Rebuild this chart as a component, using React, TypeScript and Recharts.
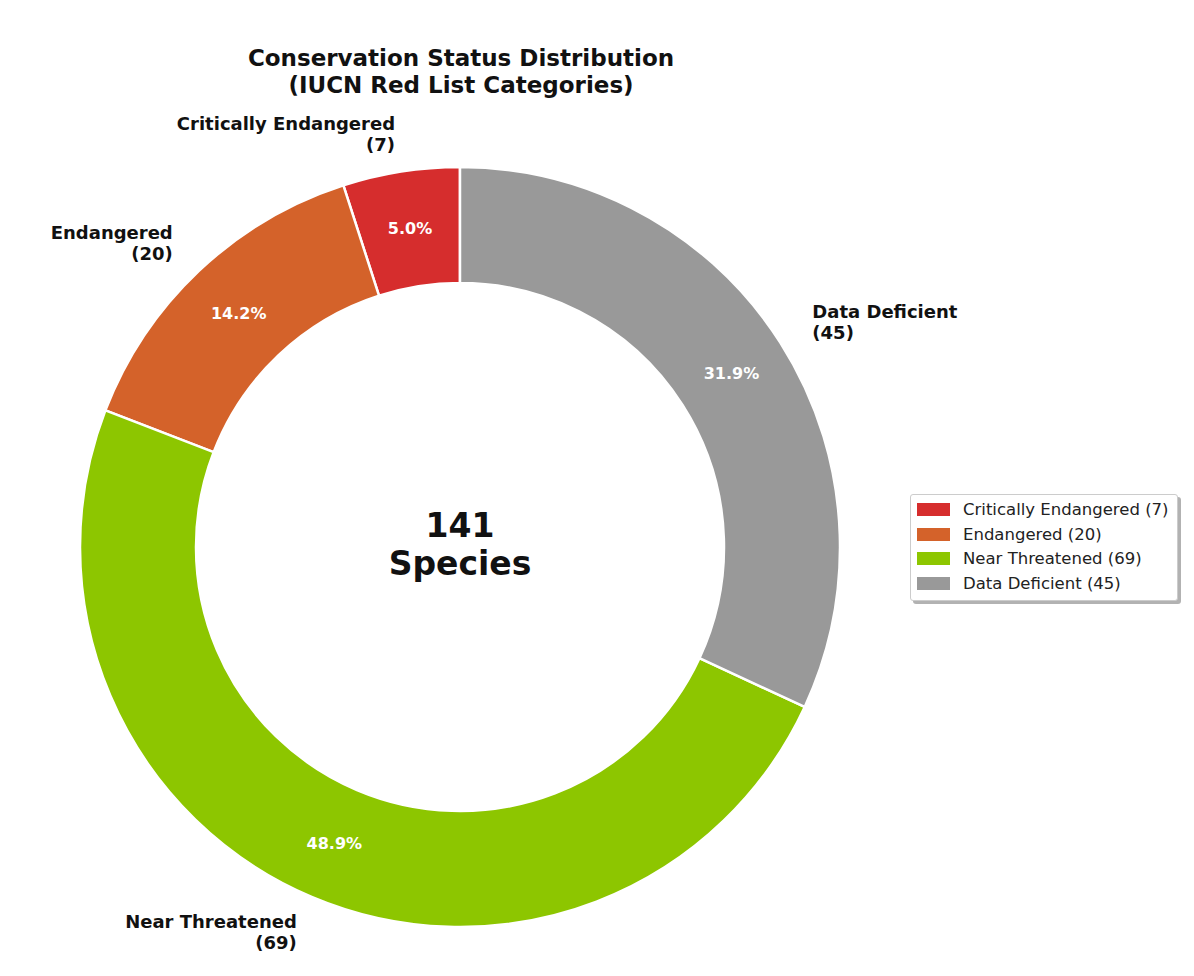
import { PieChart, Pie, Cell, Legend } from 'recharts';

const categories = ['Critically Endangered', 'Endangered', 'Near Threatened', 'Data Deficient'];
const counts = [7, 20, 69, 45];
const colors = ['#d62d2d', '#d4622a', '#8dc600', '#999999'];

const data = categories.map((name, i) => ({ name, value: counts[i] }));
const total = counts.reduce((a, b) => a + b, 0);

const FONT = '"DejaVu Sans", sans-serif';
const RAD = Math.PI / 180;

const renderLabel = (props: any) => {
    const { cx, cy, midAngle, innerRadius, outerRadius, percent, index } = props;
    const cos = Math.cos(-midAngle * RAD);
    const sin = Math.sin(-midAngle * RAD);
    const mid = (innerRadius + outerRadius) / 2;
    const out = outerRadius * 1.1;
    const px = cx + mid * cos, py = cy + mid * sin;
    const ox = cx + out * cos, oy = cy + out * sin;
    const anchor = cos < 0 ? 'end' : 'start';
    return (
        <g>
            <text x={px} y={py} fill="#fff" textAnchor="middle" dominantBaseline="central"
                fontFamily={FONT} fontWeight="bold" fontSize={16}>
                {(percent * 100).toFixed(1)}%
            </text>
            <text x={ox} y={oy} fill="#111" textAnchor={anchor} fontFamily={FONT} fontWeight="bold" fontSize={18}>
                <tspan x={ox} y={oy - 10.5} dominantBaseline="central">{categories[index]}</tspan>
                <tspan x={ox} y={oy + 10.5} dominantBaseline="central">({counts[index]})</tspan>
            </text>
        </g>
    );
};

const LegendBox = () => (
    <div style={{
        background: '#fff', border: '1px solid #ccc', borderRadius: 3,
        boxShadow: '3px 3px 0 rgba(0,0,0,0.3)', padding: '2px 6px 4px 6px',
        fontFamily: FONT, fontSize: 16.5, color: '#222', width: 254, whiteSpace: 'nowrap'
    }}>
        {categories.map((c, i) => (
            <div key={c} style={{ display: 'flex', alignItems: 'center', height: 24.7 }}>
                <span style={{ width: 33, height: 13, background: colors[i], marginRight: 13, display: 'inline-block' }} />
                {c} ({counts[i]})
            </div>
        ))}
    </div>
);

export default function App() {
    return (
        <div style={{ position: 'relative', width: 1178, height: 960, background: '#fff' }}>
            <div style={{
                position: 'absolute', left: 0, width: 906, top: 37, textAlign: 'center',
                fontFamily: FONT, fontWeight: 'bold', fontSize: 23, lineHeight: '27px', color: '#111'
            }}>
                Conservation Status Distribution<br />(IUCN Red List Categories)
            </div>
            <PieChart width={1178} height={960}>
                <Pie data={data} dataKey="value" nameKey="name" cx={447} cy={534}
                    innerRadius={264} outerRadius={380} startAngle={90} endAngle={450}
                    stroke="#fff" strokeWidth={2.5} label={renderLabel} labelLine={false}
                    isAnimationActive={false}>
                    {data.map((_, i) => <Cell key={i} fill={colors[i]} />)}
                </Pie>
                <Legend content={<LegendBox />}
                    wrapperStyle={{ position: 'absolute', left: 902, top: 486, width: 'auto' }} />
            </PieChart>
            <div style={{
                position: 'absolute', left: 302, width: 300, top: 499, textAlign: 'center',
                fontFamily: FONT, fontWeight: 'bold', fontSize: 33, lineHeight: '38px', color: '#111'
            }}>
                {total}<br />Species
            </div>
        </div>
    );
}
